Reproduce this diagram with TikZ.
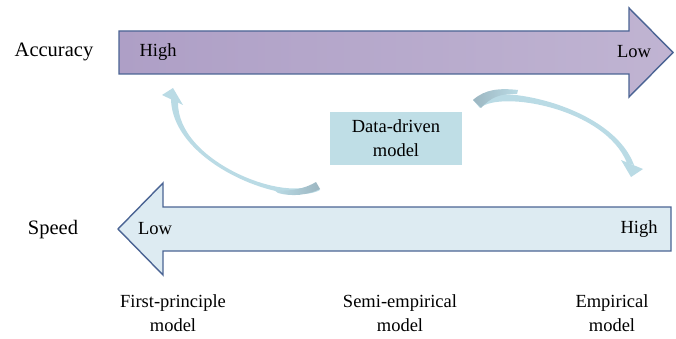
\documentclass[tikz,border=0pt]{standalone}
\usepackage{fontspec}
\setmainfont{Liberation Serif}
\definecolor{bandline}{HTML}{4B6494}
\definecolor{accleft}{HTML}{AE9FC6}
\definecolor{accright}{HTML}{C0B4D2}
\definecolor{speedfill}{HTML}{DDEBF2}
\definecolor{boxfill}{HTML}{BFDEE6}
\definecolor{ribbonblue}{HTML}{BADBE5}
\definecolor{ribbondark}{HTML}{9CB6C1}
\begin{document}
\begin{tikzpicture}[x=1pt,y=-1pt,
  lbl/.style={inner sep=0pt, font=\fontsize{18.5}{24}\selectfont, align=center},
  axislbl/.style={inner sep=0pt, font=\fontsize{20.5}{24}\selectfont},
  band/.style={draw=bandline, line width=1.4pt, line join=miter},
  ribbon/.style={fill=ribbonblue, draw=none},
  twist/.style={left color=ribbonblue, right color=ribbondark, draw=none}]
\useasboundingbox (0,0) rectangle (676,339);

% accuracy band (pointing right)
\path[band, left color=accleft, right color=accright]
  (119,31) -- (629,31) -- (629,8) -- (673,52.5) -- (629,97) -- (629,74) -- (119,74) -- cycle;
% speed band (pointing left)
\path[band, fill=speedfill]
  (671,207) -- (163,207) -- (163,183) -- (118,229) -- (163,275) -- (163,251) -- (671,251) -- cycle;

% row titles and band ends
\node[axislbl] (acc) at (54,52) {Accuracy};
\node[axislbl] (spd) at (53,230) {Speed};
\node[lbl] (acchigh) at (158,52) {High};
\node[lbl] (acclow) at (634,52) {Low};
\node[lbl] (spdlow) at (155,229) {Low};
\node[lbl] (spdhigh) at (639,229) {High};

% central model box
\node[lbl, fill=boxfill, minimum width=132pt, minimum height=53pt] (dd) at (396,138.5) {Data-driven\\model};

% model families along the bottom
\node[lbl] (fp) at (173,313) {First-principle\\model};
\node[lbl] (se) at (400,313) {Semi-empirical\\model};
\node[lbl] (em) at (612,313) {Empirical\\model};

% left curved arrow (towards high accuracy)
\path[ribbon] (171,98) .. controls (171,164) and (288,208) .. (320,190)
  -- (316,183) .. controls (288,204) and (177,162) .. (178,102) -- cycle;
\path[ribbon] (173,88) -- (162,95) -- (183,105) -- cycle;
\path[twist] (274,190) .. controls (292,192) and (306,188) .. (316,182)
  -- (320,189) .. controls (308,195) and (292,197) .. (278,193) -- cycle;

% right curved arrow (towards high speed)
\path[ribbon] (473,100) .. controls (495,82) and (612,105) .. (634,165)
  -- (627,163) .. controls (605,108) and (500,90) .. (480,108) -- cycle;
\path[ribbon] (631,177) -- (621,160) -- (643,169) -- cycle;
\path[twist, left color=ribbondark, right color=ribbonblue] (473,100) .. controls (485,89) and (500,88) .. (518,90)
  -- (517,94) .. controls (500,93) and (490,98) .. (481,108) -- cycle;
\end{tikzpicture}
\end{document}
